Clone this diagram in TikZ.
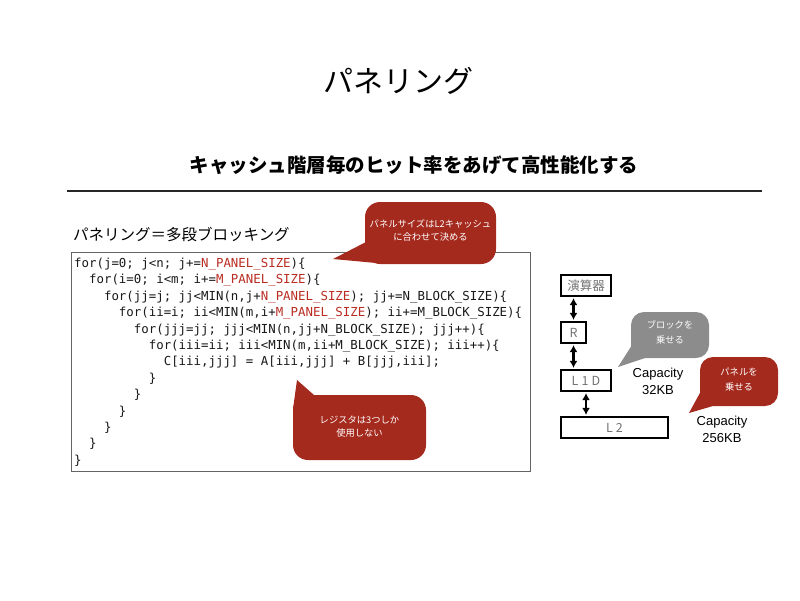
\documentclass[tikz,border=0pt]{standalone}
\usepackage{fontspec}
\setmainfont{Noto Sans CJK JP}
\newfontfamily\codefont{DejaVu Sans Mono}
\newfontfamily\latfont{Liberation Sans}
\usetikzlibrary{arrows.meta}
\definecolor{codered}{RGB}{185,45,35}
\definecolor{callred}{RGB}{165,42,30}
\definecolor{callgray}{RGB}{140,140,140}
\definecolor{boxtext}{RGB}{115,115,115}
\definecolor{framegray}{RGB}{100,100,100}
\newcommand\redtxt[1]{\textcolor{codered}{#1}}
\newcommand\ind[1]{\hspace*{#1\fontcharwd\font`0}}
\begin{document}
\begin{tikzpicture}[x=1pt,y=-1pt,
  codeline/.style={anchor=base west, inner sep=0pt, text=black!90, font=\codefont\fontsize{12.4}{14}\selectfont},
  membox/.style={draw=black, line width=2.6pt, fill=white, minimum height=21pt, inner sep=0pt, text=boxtext, font=\fontsize{12.5}{14}\selectfont},
  dbl/.style={{Latex[length=7pt,width=8pt]}-{Latex[length=7pt,width=8pt]}, line width=2.6pt, shorten <=0.8pt, shorten >=0.8pt},
  calltext/.style={text=white, align=center, font=\fontsize{9.3}{13}\selectfont, inner sep=0pt},
  captext/.style={align=center, font=\latfont\fontsize{13}{17}\selectfont, inner sep=0pt}]
\useasboundingbox (0,0) rectangle (800,600);

% titles
\node[inner sep=0pt] (title) at (398,81) {\fontsize{30}{36}\selectfont パネリング};
\node[inner sep=0pt] (subtitle) at (414,165) {\bfseries\fontsize{19.5}{24}\selectfont キャッシュ階層毎のヒット率をあげて高性能化する};
\coordinate (ruleL) at (67,191);
\coordinate (ruleR) at (762,191);
\draw[line width=2pt, black!85] (ruleL) -- (ruleR);
\node[anchor=west, inner sep=0pt] (subhead) at (73,234) {\fontsize{15.5}{18}\selectfont パネリング＝多段ブロッキング};

% code frame
\node[draw=framegray, line width=1pt, minimum width=459pt, minimum height=219pt, anchor=north west, inner sep=0pt] (frame) at (71,252) {};

\node[codeline] (l1) at (74,267.5) {for(j=0; j<n; j+=\redtxt{N\_PANEL\_SIZE})\{};
\node[codeline] (l2) at (74,283.9) {\ind{2}for(i=0; i<m; i+=\redtxt{M\_PANEL\_SIZE})\{};
\node[codeline] (l3) at (74,300.3) {\ind{4}for(jj=j; jj<MIN(n,j+\redtxt{N\_PANEL\_SIZE}); jj+=N\_BLOCK\_SIZE)\{};
\node[codeline] (l4) at (74,316.7) {\ind{6}for(ii=i; ii<MIN(m,i+\redtxt{M\_PANEL\_SIZE}); ii+=M\_BLOCK\_SIZE)\{};
\node[codeline] (l5) at (74,333.1) {\ind{8}for(jjj=jj; jjj<MIN(n,jj+N\_BLOCK\_SIZE); jjj++)\{};
\node[codeline] (l6) at (74,349.5) {\ind{10}for(iii=ii; iii<MIN(m,ii+M\_BLOCK\_SIZE); iii++)\{};
\node[codeline] (l7) at (74,365.9) {\ind{12}C[iii,jjj] = A[iii,jjj] + B[jjj,iii];};
\node[codeline] (l8) at (74,382.3) {\ind{10}\}};
\node[codeline] (l9) at (74,398.7) {\ind{8}\}};
\node[codeline] (l10) at (74,415.1) {\ind{6}\}};
\node[codeline] (l11) at (74,431.5) {\ind{4}\}};
\node[codeline] (l12) at (74,447.9) {\ind{2}\}};
\node[codeline] (l13) at (74,464.3) {\}};

% callout 1
\fill[callred, rounded corners=15pt] (365,202) rectangle (496,264);
\fill[callred] (366,242) -- (333,259) -- (376,263) -- cycle;
\node[calltext] (c1) at (430.5,230.5) {パネルサイズはL2キャッシュ\\に合わせて決める};

% callout 2
\fill[callred, rounded corners=15pt] (293,395) rectangle (426,460);
\fill[callred] (293,409) -- (297,380) -- (314,395) -- cycle;
\node[calltext] (c2) at (359.5,426.5) {レジスタは3つしか\\使用しない};

% memory hierarchy
\node[membox, minimum width=50pt] (alu) at (586,285.5) {演算器};
\node[membox, minimum width=25pt] (R) at (573.5,332.5) {R};
\node[membox, minimum width=50pt] (L1D) at (586,380.5) {\addfontfeatures{LetterSpace=25}L1D};
\node[membox, minimum width=107pt] (L2) at (614.5,427.5) {\addfontfeatures{LetterSpace=25}L2};
\draw[dbl] (alu.south -| R.north) -- (R.north);
\draw[dbl] (R.south) -- (R.south |- L1D.north);
\draw[dbl] (L1D.south) -- (L1D.south |- L2.north);

% gray callout
\fill[callgray, rounded corners=13pt] (631,312) rectangle (709,358);
\fill[callgray] (632,345) -- (618,367) -- (645,358) -- cycle;
\node[calltext, font=\fontsize{9.3}{15}\selectfont] (c3) at (670,332.5) {ブロックを\\乗せる};
\node[captext] (cap1) at (658,381) {Capacity\\32KB};

% red callout small
\fill[callred, rounded corners=13pt] (700,357) rectangle (778,406);
\fill[callred] (701,391) -- (689,413) -- (713,406) -- cycle;
\node[calltext, font=\fontsize{9.3}{15}\selectfont] (c4) at (739,379.5) {パネルを\\乗せる};
\node[captext] (cap2) at (722,429) {Capacity\\256KB};
\end{tikzpicture}
\end{document}
